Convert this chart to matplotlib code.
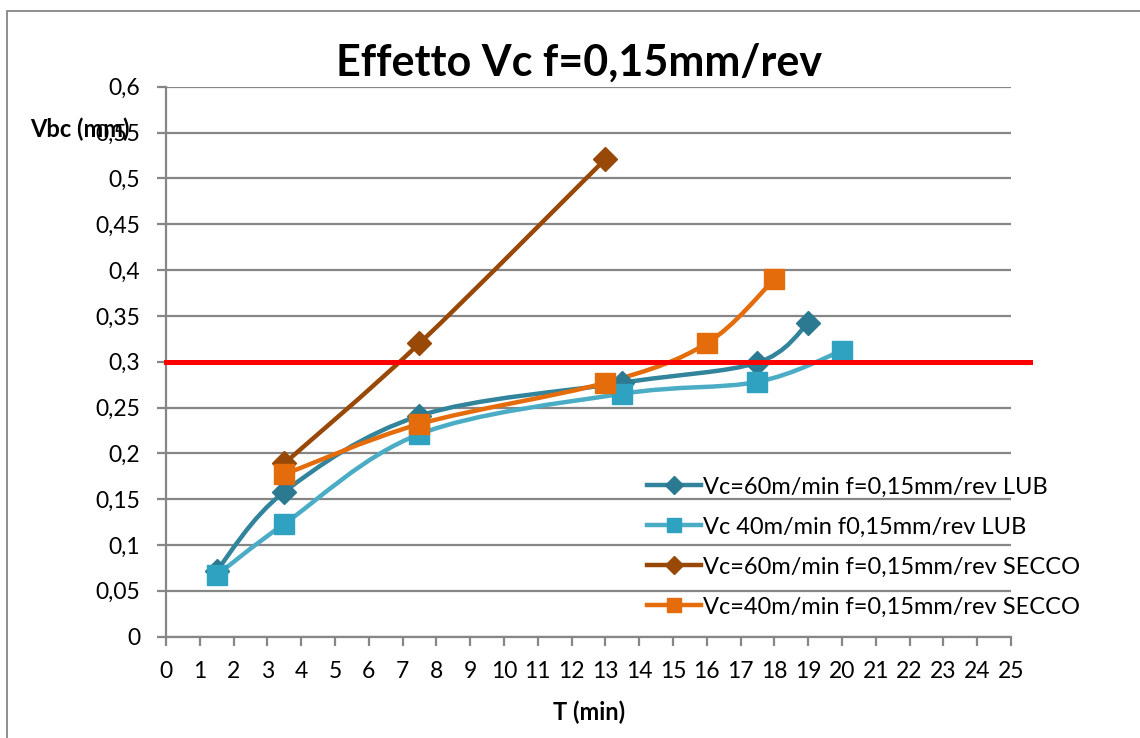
import matplotlib
matplotlib.use("Agg")
import matplotlib.pyplot as plt
import numpy as np
from matplotlib.path import Path
from matplotlib.patches import PathPatch, Rectangle
from matplotlib.lines import Line2D

plt.rcParams['font.family'] = ['Lato', 'DejaVu Sans']

# data
t_60_lub = [1.5, 3.5, 7.5, 13.5, 17.5, 19]
vb_60_lub = [0.072, 0.158, 0.241, 0.277, 0.299, 0.342]
t_40_lub = [1.5, 3.5, 7.5, 13.5, 17.5, 20]
vb_40_lub = [0.067, 0.123, 0.221, 0.265, 0.278, 0.312]
t_60_secco = [3.5, 7.5, 13]
vb_60_secco = [0.189, 0.320, 0.521]
t_40_secco = [3.5, 7.5, 13, 16, 18]
vb_40_secco = [0.177, 0.232, 0.277, 0.320, 0.390]

labels = ["Vc=60m/min f=0,15mm/rev LUB",
          "Vc 40m/min f0,15mm/rev LUB",
          "Vc=60m/min f=0,15mm/rev SECCO",
          "Vc=40m/min f=0,15mm/rev SECCO"]
limit_vb = 0.3

x_ticks = list(range(0, 26))
y_ticks = [0, 0.05, 0.1, 0.15, 0.2, 0.25, 0.3, 0.35, 0.4, 0.45, 0.5, 0.55, 0.6]
y_tick_labels = ["0", "0,05", "0,1", "0,15", "0,2", "0,25", "0,3", "0,35",
                 "0,4", "0,45", "0,5", "0,55", "0,6"]

series = [
    (t_60_lub, vb_60_lub, '#31849B', '#2B7A91', 'D', 12),
    (t_40_lub, vb_40_lub, '#4BACC6', '#2FA2C2', 's', 14),
    (t_60_secco, vb_60_secco, '#984807', '#984807', 'D', 12),
    (t_40_secco, vb_40_secco, '#E46C0A', '#E46C0A', 's', 14),
]


def smooth_path(xs, ys, k=1/6):
    # excel-like smoothed line as cubic bezier segments
    p = np.column_stack([xs, ys])
    n = len(p)
    verts = [p[0]]
    codes = [Path.MOVETO]
    for i in range(n - 1):
        p_prev = p[i - 1] if i > 0 else p[i]
        p_next = p[i + 2] if i + 2 < n else p[i + 1]
        c1 = p[i] + (p[i + 1] - p_prev) * k
        c2 = p[i + 1] - (p_next - p[i]) * k
        verts += [c1, c2, p[i + 1]]
        codes += [Path.CURVE4] * 3
    return Path(verts, codes)


fig = plt.figure(figsize=(11.4, 7.38), dpi=100)
ax = fig.add_axes([0.1456, 0.1373, 0.7412, 0.7452])

grid_c = '#868686'
ax.set_xlim(0, 25)
ax.set_ylim(0, 0.6)
ax.set_yticks(y_ticks)
ax.set_yticklabels(y_tick_labels)
ax.set_xticks(x_ticks)
ax.yaxis.grid(True, color=grid_c, lw=1.6)
ax.set_axisbelow(True)
for s in ['top', 'right']:
    ax.spines[s].set_visible(False)
for s in ['left', 'bottom']:
    ax.spines[s].set_color(grid_c)
    ax.spines[s].set_linewidth(1.6)
ax.tick_params(axis='both', colors=grid_c, width=1.6, length=6.5, labelsize=16.5,
               labelcolor='black')
ax.tick_params(axis='y', pad=12)
ax.tick_params(axis='x', pad=11)

handles = []
for (xs, ys, lc, mc, mk, ms), lab in zip(series, labels):
    ax.add_patch(PathPatch(smooth_path(xs, ys), facecolor='none', edgecolor=lc,
                           lw=3.2, capstyle='round', joinstyle='round', zorder=3))
    ax.plot(xs, ys, linestyle='none', marker=mk, markersize=ms, color=mc,
            markeredgecolor=mc, zorder=4)
    handles.append(Line2D([], [], color=lc, lw=3.2, marker=mk,
                          markersize=ms * 0.75, markerfacecolor=mc, markeredgecolor=mc))

ax.plot([0, 25.55], [limit_vb, limit_vb], color='#FF0000', lw=3.6,
        clip_on=False, zorder=5)

ax.legend(handles=handles, labels=labels, loc='upper left', frameon=False,
          bbox_to_anchor=(0.557, 0.370), bbox_transform=fig.transFigure,
          fontsize=17, handlelength=2.3, handletextpad=0.1, labelspacing=0.8,
          borderpad=0)

fig.text(0.508, 0.915, "Effetto Vc f=0,15mm/rev", ha='center', va='center',
         fontsize=31, fontweight='bold')
fig.text(0.026, 0.825, "Vbc (mm)", ha='left', va='center', fontsize=17,
         fontweight='bold')
fig.text(0.517, 0.035, "T (min)", ha='center', va='center', fontsize=17,
         fontweight='bold')

fig.add_artist(Rectangle((7 / 1140, -0.1), 1.2, 1.1 - 11 / 738,
                         transform=fig.transFigure, fill=False,
                         edgecolor=grid_c, lw=1.3))

fig.savefig("out.png", dpi=100)
